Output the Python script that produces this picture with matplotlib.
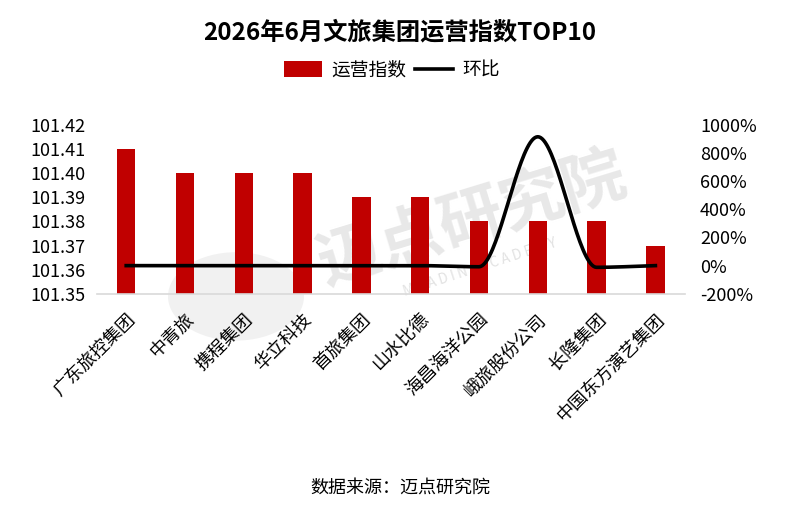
import numpy as np
import matplotlib
matplotlib.use("Agg")
import matplotlib.pyplot as plt
from matplotlib.ticker import FuncFormatter
from matplotlib.patches import Circle

plt.rcParams['font.family'] = ['Noto Sans CJK SC', 'DejaVu Sans']

categories = ["广东旅控集团", "中青旅", "携程集团", "华立科技", "首旅集团",
              "山水比德", "海昌海洋公园", "峨旅股份公司", "长隆集团", "中国东方演艺集团"]
index_values = [101.41, 101.40, 101.40, 101.40, 101.39, 101.39, 101.38, 101.38, 101.38, 101.37]
mom_values = [0, 0, 0, 0, 0, 0, -8, 915, -12, 0]  # percent
left_ticks = [101.35, 101.36, 101.37, 101.38, 101.39, 101.40, 101.41, 101.42]
right_ticks = [-200, 0, 200, 400, 600, 800, 1000]


def pchip_curve(x, y, n=40):
    """Monotone cubic (Fritsch-Carlson) curve through the data points, for smooth drawing."""
    x = np.asarray(x, float); y = np.asarray(y, float)
    h = np.diff(x); d = np.diff(y) / h
    m = np.zeros_like(y)
    for k in range(1, len(y) - 1):
        if d[k-1] * d[k] > 0:
            w1 = 2*h[k] + h[k-1]; w2 = h[k] + 2*h[k-1]
            m[k] = (w1 + w2) / (w1/d[k-1] + w2/d[k])
    m[0] = 0.0 if d[0] == 0 else d[0]
    m[-1] = 0.0 if d[-1] == 0 else d[-1]
    xs, ys = [], []
    t = np.linspace(0, 1, n)
    for k in range(len(x) - 1):
        h00 = 2*t**3 - 3*t**2 + 1; h10 = t**3 - 2*t**2 + t
        h01 = -2*t**3 + 3*t**2; h11 = t**3 - t**2
        xs.append(x[k] + t*h[k])
        ys.append(h00*y[k] + h10*h[k]*m[k] + h01*y[k+1] + h11*h[k]*m[k+1])
    return np.concatenate(xs), np.concatenate(ys)


fig = plt.figure(figsize=(8, 5.2), dpi=100)
ax = fig.add_axes([0.121, 0.435, 0.735, 0.325])
x = np.arange(len(categories))

# watermark (behind everything)
fig.patches.append(Circle((0.295, 0.43), 0.085, transform=fig.transFigure,
                          facecolor="#f1f1f1", edgecolor="none", zorder=-2))
fig.text(0.59, 0.578, "迈点研究院", fontsize=46, color="#e8e8e8", rotation=17,
         ha="center", va="center", fontweight="bold", zorder=-1)
fig.text(0.60, 0.485, "M E A D I N    A C A D E M Y", fontsize=10, color="#e2e2e2",
         rotation=18, ha="center", va="center", zorder=-1)
ax.patch.set_alpha(0)

bars = ax.bar(x, index_values, width=0.31, color="#C00000", label="运营指数", zorder=2)
ax.set_ylim(101.35, 101.42)
ax.set_yticks(left_ticks)
ax.yaxis.set_major_formatter(FuncFormatter(lambda v, p: f"{v:.2f}"))
ax.set_xlim(-0.5, len(categories)-0.5)
ax.set_xticks(x)
ax.set_xticklabels(categories, rotation=45, ha="right", rotation_mode="anchor", fontsize=13)
ax.tick_params(axis="y", length=0, labelsize=13, pad=8)
ax.tick_params(axis="x", length=0, pad=12)
for s in ["top", "right", "left"]:
    ax.spines[s].set_visible(False)
ax.spines["bottom"].set_color("#d9d9d9")
ax.spines["bottom"].set_linewidth(1.2)

ax2 = ax.twinx()
ax2.patch.set_alpha(0)
sx, sy = pchip_curve(x, mom_values)
line, = ax2.plot(sx, sy, color="black", linewidth=2.6, label="环比", zorder=3)
ax2.set_ylim(-200, 1000)
ax2.set_yticks(right_ticks)
ax2.yaxis.set_major_formatter(FuncFormatter(lambda v, p: f"{int(v)}%"))
ax2.tick_params(axis="y", length=0, labelsize=13, pad=11)
for s in ["top", "right", "left", "bottom"]:
    ax2.spines[s].set_visible(False)

fig.text(0.5, 0.938, "2026年6月文旅集团运营指数TOP10", ha="center", va="center",
         fontsize=17.5, fontweight="bold")
fig.legend([bars, line], ["运营指数", "环比"], loc="center", bbox_to_anchor=(0.49, 0.865),
           ncol=2, frameon=False, fontsize=13.5, handlelength=2.0, handleheight=0.9,
           columnspacing=0.5, handletextpad=0.5)
fig.text(0.5, 0.063, "数据来源：迈点研究院", ha="center", va="center", fontsize=13)

fig.savefig("out.png", dpi=100)
